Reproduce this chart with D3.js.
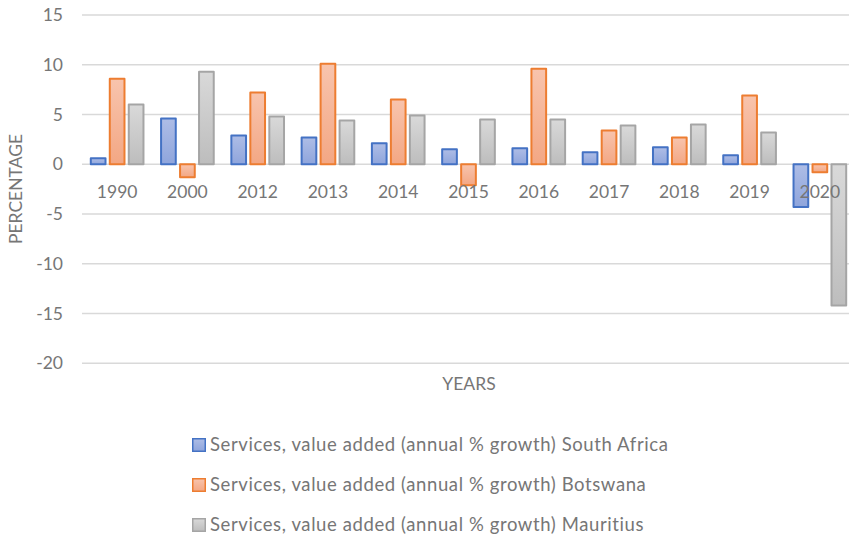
<!DOCTYPE html>
<html>
<head>
<meta charset="utf-8">
<script src="https://cdn.jsdelivr.net/npm/d3@7"></script>
<style>
  html, body { margin: 0; padding: 0; background: #fff; }
  svg { display: block; font-family: Lato, "Open Sans", sans-serif; }
</style>
</head>
<body>
<svg id="chart" width="849" height="536"></svg>
<script>
// Services, value added (annual % growth)
const years = ["1990", "2000", "2012", "2013", "2014", "2015", "2016", "2017", "2018", "2019", "2020"];
const southAfrica = [0.6, 4.6, 2.9, 2.7, 2.1, 1.5, 1.6, 1.2, 1.7, 0.9, -4.3];
const botswana    = [8.6, -1.3, 7.2, 10.1, 6.5, -2.1, 9.6, 3.4, 2.7, 6.9, -0.8];
const mauritius   = [6.0, 9.3, 4.8, 4.4, 4.9, 4.5, 4.5, 3.9, 4.0, 3.2, -14.2];
const seriesNames = [
  "Services, value added (annual % growth) South Africa",
  "Services, value added (annual % growth) Botswana",
  "Services, value added (annual % growth) Mauritius"
];
const yTicks = [15, 10, 5, 0, -5, -10, -15, -20];

const series = [
  { name: seriesNames[0], values: southAfrica, stroke: "#4472c4", top: "#aebde6", bottom: "#8fa5dc" },
  { name: seriesNames[1], values: botswana,    stroke: "#ed7d31", top: "#f8c4ad", bottom: "#f3a784" },
  { name: seriesNames[2], values: mauritius,   stroke: "#a5a5a5", top: "#d9d9d9", bottom: "#bdbdbd" }
];

const svg = d3.select("#chart");
const textColor = "#767676";

const x = d3.scaleBand().domain(years).range([82, 855]).paddingInner(0.222).paddingOuter(0.111);
const xInner = d3.scaleBand().domain(series.map(s => s.name)).range([0, x.bandwidth()]).paddingInner(0.12);
const y = d3.scaleLinear().domain([-20, 15]).range([363.3, 15]);

// gradient fills for bars
const defs = svg.append("defs");
series.forEach((s, i) => {
  const g = defs.append("linearGradient").attr("id", "grad" + i)
    .attr("x1", 0).attr("y1", 0).attr("x2", 0).attr("y2", 1);
  g.append("stop").attr("offset", "0%").attr("stop-color", s.top);
  g.append("stop").attr("offset", "100%").attr("stop-color", s.bottom);
});

// horizontal gridlines
svg.append("g").selectAll("line").data(yTicks).join("line")
  .attr("x1", 82).attr("x2", 849)
  .attr("y1", d => y(d)).attr("y2", d => y(d))
  .attr("stroke", "#d9d9d9").attr("stroke-width", 1.5);

// y tick labels
svg.append("g").selectAll("text").data(yTicks).join("text")
  .attr("x", 63).attr("y", d => y(d))
  .attr("dy", "0.35em").attr("text-anchor", "end")
  .attr("font-size", 17.5).attr("fill", textColor)
  .text(d => d);

// bars
const groups = svg.append("g").selectAll("g").data(years).join("g")
  .attr("transform", d => `translate(${x(d)},0)`);
groups.selectAll("rect")
  .data((d, i) => series.map((s, k) => ({ s, k, v: s.values[i] })))
  .join("rect")
  .attr("x", d => xInner(d.s.name) + 1)
  .attr("width", xInner.bandwidth() - 2)
  .attr("y", d => y(Math.max(0, d.v)))
  .attr("height", d => Math.abs(y(d.v) - y(0)))
  .attr("fill", d => `url(#grad${d.k})`)
  .attr("stroke", d => d.s.stroke)
  .attr("stroke-width", 2)
  .attr("stroke-linejoin", "round");

// category labels, drawn over the bars
svg.append("g").selectAll("text").data(years).join("text")
  .attr("x", d => x(d) + x.bandwidth() / 2)
  .attr("y", 197.5)
  .attr("text-anchor", "middle")
  .attr("font-size", 17.5).attr("fill", textColor)
  .text(d => d);

// axis titles
svg.append("text")
  .attr("transform", "translate(22,189) rotate(-90)")
  .attr("text-anchor", "middle")
  .attr("font-size", 17.5).attr("fill", textColor)
  .text("PERCENTAGE");
svg.append("text")
  .attr("x", 469).attr("y", 389.5)
  .attr("text-anchor", "middle")
  .attr("font-size", 17.5).attr("fill", textColor)
  .text("YEARS");

// legend
const legend = svg.append("g").selectAll("g").data(series).join("g")
  .attr("transform", (d, i) => `translate(192,${438 + i * 40})`);
legend.append("rect")
  .attr("x", 0.75).attr("y", 0.75).attr("width", 12.5).attr("height", 12.5)
  .attr("fill", (d, i) => `url(#grad${i})`)
  .attr("stroke", d => d.stroke).attr("stroke-width", 1.5);
legend.append("text")
  .attr("x", 18).attr("y", 13)
  .attr("font-size", 18.5).attr("letter-spacing", 0.6).attr("fill", textColor)
  .text(d => d.name);
</script>
</body>
</html>
